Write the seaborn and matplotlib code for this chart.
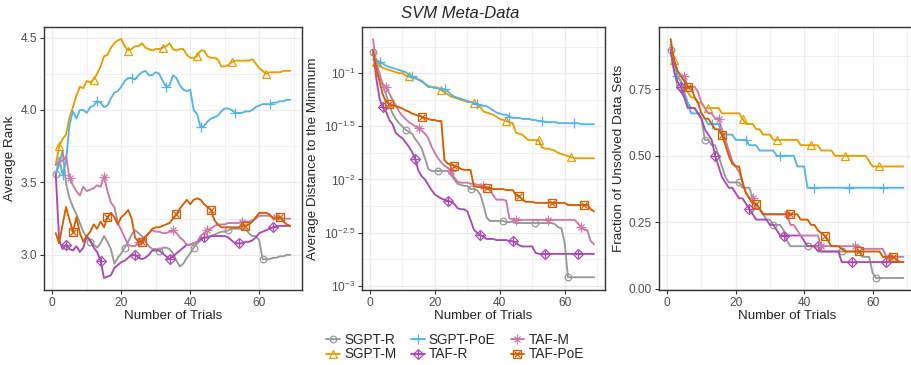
import matplotlib
matplotlib.use("Agg")
import matplotlib.pyplot as plt
from matplotlib.lines import Line2D
from matplotlib.ticker import FixedLocator, NullFormatter
import seaborn as sns

trials = list(range(1, 70))
methods = ["SGPT-R", "SGPT-M", "SGPT-PoE", "TAF-R", "TAF-M", "TAF-PoE"]
colors = ["#999999", "#E69F00", "#56B4E9", "#A84BB0", "#CC79A7", "#D55E00"]

# --- Average rank ---
rank_sgpt_r = [3.56, 3.62, 3.72, 3.49, 3.39, 3.33, 3.28, 3.22, 3.16, 3.12, 3.09, 3.07, 3.05, 3.08, 3.13, 3.09, 3.04, 2.94, 2.98, 3.01,
               3.05, 3.09, 3.14, 3.17, 3.15, 3.13, 3.09, 3.06, 3.04, 3.04, 3.03, 3.05, 3.05, 3.04, 3.01, 2.96, 2.92, 2.94, 2.98, 3.01,
               3.05, 3.08, 3.10, 3.12, 3.12, 3.13, 3.14, 3.15, 3.16, 3.16, 3.17, 3.18, 3.18, 3.18, 3.18, 3.18, 3.15, 3.13, 3.13, 3.10,
               2.97, 2.97, 2.97, 2.98, 2.98, 2.99, 2.99, 3.00, 3.00]
rank_sgpt_m = [3.62, 3.75, 3.80, 3.83, 3.95, 4.02, 4.10, 4.16, 4.15, 4.20, 4.19, 4.21, 4.25, 4.30, 4.37, 4.38, 4.43, 4.46, 4.48, 4.49,
               4.44, 4.41, 4.42, 4.44, 4.44, 4.46, 4.43, 4.42, 4.41, 4.42, 4.42, 4.43, 4.44, 4.46, 4.42, 4.41, 4.42, 4.42, 4.38, 4.36,
               4.36, 4.37, 4.41, 4.41, 4.37, 4.36, 4.36, 4.35, 4.30, 4.30, 4.31, 4.33, 4.34, 4.34, 4.34, 4.34, 4.34, 4.35, 4.32, 4.29,
               4.27, 4.25, 4.26, 4.26, 4.26, 4.26, 4.27, 4.27, 4.27]
rank_sgpt_poe = [3.55, 3.67, 3.55, 3.65, 3.90, 3.99, 3.94, 4.00, 4.00, 3.98, 4.02, 4.03, 4.06, 4.05, 4.02, 4.03, 4.08, 4.12, 4.13, 4.16,
                 4.20, 4.22, 4.22, 4.21, 4.24, 4.26, 4.27, 4.24, 4.24, 4.26, 4.25, 4.20, 4.16, 4.17, 4.24, 4.22, 4.17, 4.14, 4.13, 4.14,
                 4.00, 3.97, 3.88, 3.89, 3.92, 3.94, 3.95, 3.96, 3.99, 4.01, 4.01, 4.00, 3.98, 3.98, 3.98, 3.99, 3.99, 4.00, 4.02, 4.03,
                 4.04, 4.04, 4.04, 4.05, 4.05, 4.06, 4.06, 4.07, 4.07]
rank_taf_r = [3.56, 3.10, 3.04, 3.07, 3.04, 3.03, 3.06, 3.02, 3.05, 3.13, 3.10, 3.05, 3.02, 2.96, 2.84, 2.85, 2.86, 2.91, 2.93, 2.95,
              2.96, 2.98, 3.00, 3.00, 2.98, 2.97, 2.98, 3.00, 3.03, 3.03, 3.03, 3.01, 2.99, 2.97, 2.99, 3.01, 3.03, 3.05, 3.07, 3.07,
              3.08, 3.09, 3.11, 3.12, 3.12, 3.13, 3.13, 3.13, 3.13, 3.13, 3.12, 3.10, 3.08, 3.08, 3.08, 3.09, 3.09, 3.10, 3.12, 3.15,
              3.16, 3.17, 3.18, 3.19, 3.20, 3.20, 3.20, 3.20, 3.20]
rank_taf_m = [3.62, 3.64, 3.65, 3.68, 3.53, 3.48, 3.44, 3.41, 3.47, 3.44, 3.45, 3.46, 3.48, 3.47, 3.54, 3.44, 3.36, 3.33, 3.22, 3.17,
              3.12, 3.07, 3.06, 3.06, 3.09, 3.11, 3.13, 3.15, 3.17, 3.16, 3.16, 3.15, 3.15, 3.16, 3.17, 3.15, 3.12, 3.10, 3.07, 3.07,
              3.08, 3.09, 3.13, 3.15, 3.17, 3.18, 3.20, 3.21, 3.21, 3.21, 3.22, 3.22, 3.22, 3.22, 3.23, 3.23, 3.23, 3.24, 3.25, 3.27,
              3.27, 3.27, 3.27, 3.26, 3.26, 3.26, 3.25, 3.25, 3.25]
rank_taf_poe = [3.15, 3.08, 3.21, 3.33, 3.24, 3.16, 3.26, 3.15, 3.09, 3.13, 3.16, 3.21, 3.18, 3.23, 3.19, 3.26, 3.29, 3.26, 3.21, 3.26,
                3.28, 3.31, 3.25, 3.12, 3.09, 3.09, 3.12, 3.15, 3.18, 3.19, 3.19, 3.20, 3.21, 3.22, 3.25, 3.28, 3.32, 3.35, 3.38, 3.35,
                3.38, 3.39, 3.38, 3.35, 3.33, 3.31, 3.24, 3.21, 3.19, 3.19, 3.19, 3.19, 3.19, 3.19, 3.20, 3.20, 3.21, 3.23, 3.26, 3.29,
                3.29, 3.29, 3.28, 3.25, 3.25, 3.26, 3.23, 3.21, 3.20]

# --- Average distance to the minimum (log10 of the value) ---
dist_sgpt_r = [-0.80, -0.90, -1.00, -1.12, -1.20, -1.30, -1.38, -1.43, -1.47, -1.50, -1.53, -1.55, -1.57, -1.62, -1.66, -1.71, -1.80, -1.90, -1.92, -1.92,
               -1.92, -1.92, -1.92, -1.92, -1.96, -2.00, -2.04, -2.05, -2.06, -2.06, -2.09, -2.09, -2.10, -2.14, -2.24, -2.36, -2.39, -2.39, -2.39, -2.39,
               -2.39, -2.40, -2.40, -2.40, -2.41, -2.41, -2.41, -2.41, -2.41, -2.41, -2.41, -2.41, -2.41, -2.41, -2.41, -2.41, -2.42, -2.45, -2.46, -2.60,
               -2.92, -2.92, -2.92, -2.92, -2.92, -2.92, -2.92, -2.92, -2.92]
dist_sgpt_m = [-0.82, -0.89, -0.92, -0.95, -0.96, -0.97, -0.98, -0.99, -1.00, -1.00, -1.02, -1.03, -1.04, -1.05, -1.06, -1.07, -1.10, -1.13, -1.13, -1.13,
               -1.14, -1.16, -1.18, -1.20, -1.22, -1.23, -1.24, -1.25, -1.26, -1.27, -1.27, -1.28, -1.30, -1.32, -1.36, -1.37, -1.38, -1.39, -1.41, -1.43,
               -1.44, -1.45, -1.46, -1.47, -1.56, -1.57, -1.58, -1.61, -1.63, -1.63, -1.63, -1.63, -1.70, -1.71, -1.71, -1.72, -1.73, -1.75, -1.76, -1.77,
               -1.78, -1.79, -1.80, -1.80, -1.80, -1.80, -1.80, -1.80, -1.80]
dist_sgpt_poe = [-0.87, -0.88, -0.89, -0.91, -0.93, -0.94, -0.95, -0.96, -0.97, -0.98, -0.99, -1.01, -1.03, -1.04, -1.06, -1.08, -1.10, -1.12, -1.13, -1.14,
                 -1.14, -1.15, -1.15, -1.17, -1.20, -1.22, -1.23, -1.24, -1.25, -1.26, -1.27, -1.28, -1.29, -1.30, -1.31, -1.31, -1.33, -1.35, -1.37, -1.38,
                 -1.39, -1.39, -1.41, -1.42, -1.42, -1.42, -1.43, -1.43, -1.43, -1.44, -1.44, -1.45, -1.45, -1.46, -1.46, -1.46, -1.46, -1.47, -1.47, -1.47,
                 -1.47, -1.47, -1.47, -1.47, -1.48, -1.48, -1.48, -1.48, -1.48]
dist_taf_r = [-0.78, -1.05, -1.24, -1.32, -1.36, -1.44, -1.48, -1.56, -1.59, -1.61, -1.65, -1.69, -1.74, -1.81, -1.92, -1.97, -2.00, -2.05, -2.10, -2.14,
              -2.16, -2.18, -2.19, -2.20, -2.21, -2.23, -2.27, -2.28, -2.28, -2.30, -2.38, -2.47, -2.50, -2.52, -2.54, -2.56, -2.56, -2.56, -2.57, -2.57,
              -2.57, -2.57, -2.58, -2.58, -2.60, -2.62, -2.63, -2.63, -2.63, -2.63, -2.69, -2.70, -2.70, -2.70, -2.70, -2.70, -2.70, -2.70, -2.70, -2.70,
              -2.70, -2.70, -2.70, -2.70, -2.70, -2.70, -2.70, -2.70, -2.70]
dist_taf_m = [-0.68, -0.92, -1.04, -1.10, -1.13, -1.19, -1.25, -1.30, -1.36, -1.40, -1.43, -1.46, -1.48, -1.50, -1.52, -1.54, -1.57, -1.61, -1.69, -1.75,
              -1.80, -1.84, -1.87, -1.89, -1.92, -1.98, -2.02, -2.03, -2.03, -2.03, -2.04, -2.04, -2.05, -2.05, -2.06, -2.08, -2.09, -2.15, -2.19, -2.19,
              -2.19, -2.20, -2.37, -2.37, -2.38, -2.38, -2.38, -2.38, -2.38, -2.38, -2.38, -2.38, -2.38, -2.38, -2.38, -2.38, -2.38, -2.38, -2.38, -2.38,
              -2.38, -2.38, -2.38, -2.41, -2.45, -2.47, -2.48, -2.58, -2.61]
dist_taf_poe = [-0.80, -0.96, -1.08, -1.20, -1.27, -1.29, -1.30, -1.31, -1.32, -1.33, -1.35, -1.36, -1.38, -1.39, -1.40, -1.41, -1.42, -1.43, -1.44, -1.44,
                -1.45, -1.45, -1.82, -1.85, -1.86, -1.87, -1.88, -1.90, -1.91, -1.91, -1.91, -2.06, -2.07, -2.07, -2.08, -2.08, -2.08, -2.09, -2.09, -2.09,
                -2.09, -2.10, -2.10, -2.10, -2.15, -2.16, -2.19, -2.21, -2.21, -2.21, -2.22, -2.22, -2.22, -2.22, -2.22, -2.22, -2.22, -2.22, -2.22, -2.22,
                -2.24, -2.24, -2.24, -2.24, -2.24, -2.24, -2.24, -2.28, -2.30]

# --- Fraction of unsolved data sets ---
frac_sgpt_r = [0.90, 0.82, 0.76, 0.74, 0.72, 0.70, 0.68, 0.68, 0.66, 0.64, 0.56, 0.56, 0.54, 0.54, 0.50, 0.46, 0.42, 0.40, 0.40, 0.40,
               0.40, 0.38, 0.38, 0.38, 0.34, 0.30, 0.30, 0.28, 0.26, 0.26, 0.24, 0.24, 0.24, 0.22, 0.18, 0.16, 0.16, 0.16, 0.16, 0.16,
               0.16, 0.16, 0.16, 0.14, 0.14, 0.14, 0.14, 0.14, 0.14, 0.14, 0.14, 0.14, 0.14, 0.14, 0.14, 0.14, 0.12, 0.12, 0.12, 0.06,
               0.04, 0.04, 0.04, 0.04, 0.04, 0.04, 0.04, 0.04, 0.04]
frac_sgpt_m = [0.88, 0.86, 0.80, 0.78, 0.76, 0.74, 0.72, 0.72, 0.70, 0.70, 0.68, 0.68, 0.68, 0.68, 0.68, 0.66, 0.66, 0.66, 0.66, 0.66,
               0.66, 0.64, 0.62, 0.62, 0.62, 0.60, 0.60, 0.58, 0.58, 0.58, 0.56, 0.56, 0.56, 0.56, 0.56, 0.56, 0.56, 0.56, 0.54, 0.54,
               0.54, 0.54, 0.54, 0.54, 0.52, 0.52, 0.52, 0.52, 0.50, 0.50, 0.50, 0.50, 0.50, 0.50, 0.50, 0.50, 0.50, 0.50, 0.48, 0.46,
               0.46, 0.46, 0.46, 0.46, 0.46, 0.46, 0.46, 0.46, 0.46]
frac_sgpt_poe = [0.90, 0.86, 0.80, 0.78, 0.74, 0.70, 0.66, 0.66, 0.66, 0.66, 0.64, 0.62, 0.62, 0.62, 0.62, 0.58, 0.58, 0.58, 0.58, 0.56,
                 0.56, 0.56, 0.56, 0.54, 0.54, 0.54, 0.52, 0.52, 0.52, 0.52, 0.52, 0.50, 0.50, 0.50, 0.50, 0.50, 0.50, 0.46, 0.46, 0.46,
                 0.38, 0.38, 0.38, 0.38, 0.38, 0.38, 0.38, 0.38, 0.38, 0.38, 0.38, 0.38, 0.38, 0.38, 0.38, 0.38, 0.38, 0.38, 0.38, 0.38,
                 0.38, 0.38, 0.38, 0.38, 0.38, 0.38, 0.38, 0.38, 0.38]
frac_taf_r = [0.90, 0.82, 0.78, 0.76, 0.72, 0.68, 0.68, 0.68, 0.66, 0.64, 0.60, 0.58, 0.56, 0.50, 0.46, 0.42, 0.40, 0.38, 0.38, 0.36,
              0.34, 0.34, 0.32, 0.30, 0.28, 0.26, 0.26, 0.26, 0.26, 0.24, 0.24, 0.22, 0.20, 0.20, 0.20, 0.20, 0.20, 0.20, 0.20, 0.18,
              0.16, 0.16, 0.16, 0.16, 0.14, 0.14, 0.14, 0.14, 0.14, 0.14, 0.10, 0.10, 0.10, 0.10, 0.10, 0.10, 0.10, 0.10, 0.10, 0.10,
              0.10, 0.10, 0.10, 0.10, 0.10, 0.10, 0.10, 0.10, 0.10]
frac_taf_m = [0.92, 0.86, 0.82, 0.80, 0.80, 0.76, 0.76, 0.76, 0.74, 0.70, 0.68, 0.66, 0.66, 0.64, 0.64, 0.60, 0.56, 0.52, 0.48, 0.46,
              0.44, 0.40, 0.36, 0.34, 0.34, 0.30, 0.30, 0.28, 0.28, 0.28, 0.28, 0.28, 0.28, 0.28, 0.28, 0.24, 0.24, 0.22, 0.20, 0.20,
              0.20, 0.20, 0.20, 0.20, 0.16, 0.16, 0.16, 0.16, 0.16, 0.16, 0.16, 0.16, 0.16, 0.16, 0.16, 0.16, 0.15, 0.15, 0.15, 0.15,
              0.15, 0.15, 0.15, 0.12, 0.12, 0.12, 0.12, 0.12, 0.12]
frac_taf_poe = [0.94, 0.86, 0.82, 0.80, 0.78, 0.76, 0.76, 0.72, 0.70, 0.66, 0.64, 0.64, 0.62, 0.60, 0.60, 0.58, 0.54, 0.50, 0.47, 0.46,
                0.46, 0.40, 0.36, 0.34, 0.32, 0.32, 0.30, 0.28, 0.28, 0.28, 0.28, 0.28, 0.28, 0.28, 0.28, 0.28, 0.28, 0.28, 0.26, 0.26,
                0.26, 0.24, 0.24, 0.22, 0.21, 0.20, 0.18, 0.16, 0.16, 0.16, 0.15, 0.14, 0.14, 0.14, 0.14, 0.14, 0.14, 0.14, 0.14, 0.14,
                0.14, 0.14, 0.12, 0.12, 0.12, 0.12, 0.11, 0.10, 0.10]

rank = [rank_sgpt_r, rank_sgpt_m, rank_sgpt_poe, rank_taf_r, rank_taf_m, rank_taf_poe]
dist = [dist_sgpt_r, dist_sgpt_m, dist_sgpt_poe, dist_taf_r, dist_taf_m, dist_taf_poe]
frac = [frac_sgpt_r, frac_sgpt_m, frac_sgpt_poe, frac_taf_r, frac_taf_m, frac_taf_poe]

# ggplot-like shapes: each entry is a list of overlaid markers
shapes = [
    [dict(marker="o", markersize=4.8)],
    [dict(marker="^", markersize=5.6)],
    [dict(marker="+", markersize=7)],
    [dict(marker="D", markersize=4.6), dict(marker="+", markersize=6.4)],
    [dict(marker="+", markersize=7), dict(marker="x", markersize=5)],
    [dict(marker="s", markersize=5.2), dict(marker="x", markersize=4.5)],
]

sns.set_style("white")
plt.rcParams["font.family"] = ["Liberation Sans", "DejaVu Sans"]
plt.rcParams["mathtext.fontset"] = "custom"
plt.rcParams["mathtext.rm"] = "Liberation Sans"
plt.rcParams["mathtext.it"] = "Liberation Sans:italic"

fig = plt.figure(figsize=(9.12, 3.65), dpi=100)
top, bottom = 27, 290
boxes = [(44, 302), (362, 605), (659, 915)]
axes = []
for l, r in boxes:
    axes.append(fig.add_axes([l / 912, 1 - bottom / 365, (r - l) / 912, (bottom - top) / 365]))


def draw_panel(ax, series, log=False):
    for i, (name, ys) in enumerate(zip(methods, series)):
        yv = [10 ** v for v in ys] if log else ys
        sns.lineplot(x=trials, y=yv, color=colors[i], linewidth=1.35, ax=ax, zorder=3 + i)
        mx = trials[i::10]
        my = yv[i::10]
        for spec in shapes[i]:
            ax.plot(mx, my, linestyle="none", color=colors[i], markerfacecolor="none",
                    markeredgewidth=0.9, zorder=3 + i, **spec)
    ax.set_xlim(-2.4, 72.4)
    ax.xaxis.set_major_locator(FixedLocator([0, 20, 40, 60]))
    ax.xaxis.set_minor_locator(FixedLocator([10, 30, 50, 70]))
    ax.grid(which="major", color="#EBEBEB", linewidth=0.9, zorder=0)
    ax.grid(which="minor", color="#EBEBEB", linewidth=0.5, zorder=0)
    ax.set_axisbelow(True)
    for s in ax.spines.values():
        s.set_color("#333333")
        s.set_linewidth(1.0)
    ax.tick_params(which="major", length=3, width=0.8, color="#333333", labelcolor="#4D4D4D",
                   labelsize=8.6, pad=2, direction="out", bottom=True, left=True)
    ax.tick_params(which="minor", length=0)
    ax.set_xlabel("Number of Trials", fontsize=9.6, labelpad=1)


ax1, ax2, ax3 = axes

draw_panel(ax1, rank)
ax1.set_ylim(2.7575, 4.5725)
ax1.yaxis.set_major_locator(FixedLocator([3.0, 3.5, 4.0, 4.5]))
ax1.yaxis.set_minor_locator(FixedLocator([2.75, 3.25, 3.75, 4.25]))
ax1.set_yticklabels(["3.0", "3.5", "4.0", "4.5"])
ax1.set_ylabel("Average Rank", fontsize=9.7, labelpad=3)

draw_panel(ax2, dist, log=True)
ax2.set_yscale("log")
ax2.set_ylim(10 ** -3.04, 10 ** -0.565)
major_exp = [-1, -1.5, -2, -2.5, -3]
ax2.yaxis.set_major_locator(FixedLocator([10 ** e for e in major_exp]))
ax2.yaxis.set_minor_locator(FixedLocator([10 ** e for e in [-0.75, -1.25, -1.75, -2.25, -2.75]]))
ax2.yaxis.set_minor_formatter(NullFormatter())
ax2.set_yticklabels(["$10^{-1}$", "$10^{-1.5}$", "$10^{-2}$", "$10^{-2.5}$", "$10^{-3}$"])
ax2.tick_params(which="minor", length=0)
ax2.set_ylabel("Average Distance to the Minimum", fontsize=9.7, labelpad=3)

draw_panel(ax3, frac)
ax3.set_ylim(-0.005, 0.985)
ax3.yaxis.set_major_locator(FixedLocator([0.0, 0.25, 0.5, 0.75]))
ax3.yaxis.set_minor_locator(FixedLocator([0.125, 0.375, 0.625, 0.875]))
ax3.set_yticklabels(["0.00", "0.25", "0.50", "0.75"])
ax3.set_ylabel("Fraction of Unsolved Data Sets", fontsize=9.7, labelpad=3)

fig.text(460 / 912, 1 - 14 / 365, "SVM Meta-Data", ha="center", va="center",
         fontsize=12, fontstyle="italic")

handles = []
for i in range(len(methods)):
    parts = []
    for j, spec in enumerate(shapes[i]):
        parts.append(Line2D([], [], color=colors[i], linewidth=1.35 if j == 0 else 0,
                            markerfacecolor="none", markeredgewidth=0.9, **spec))
    handles.append(tuple(parts))
fig.legend(handles, methods, loc="center", bbox_to_anchor=(455 / 912, 1 - 347 / 365), ncol=3,
           frameon=False, fontsize=9.8, handlelength=1.0, handletextpad=0.3,
           columnspacing=1.1, labelspacing=0.05, borderpad=0)

fig.savefig("out.png", dpi=100)
